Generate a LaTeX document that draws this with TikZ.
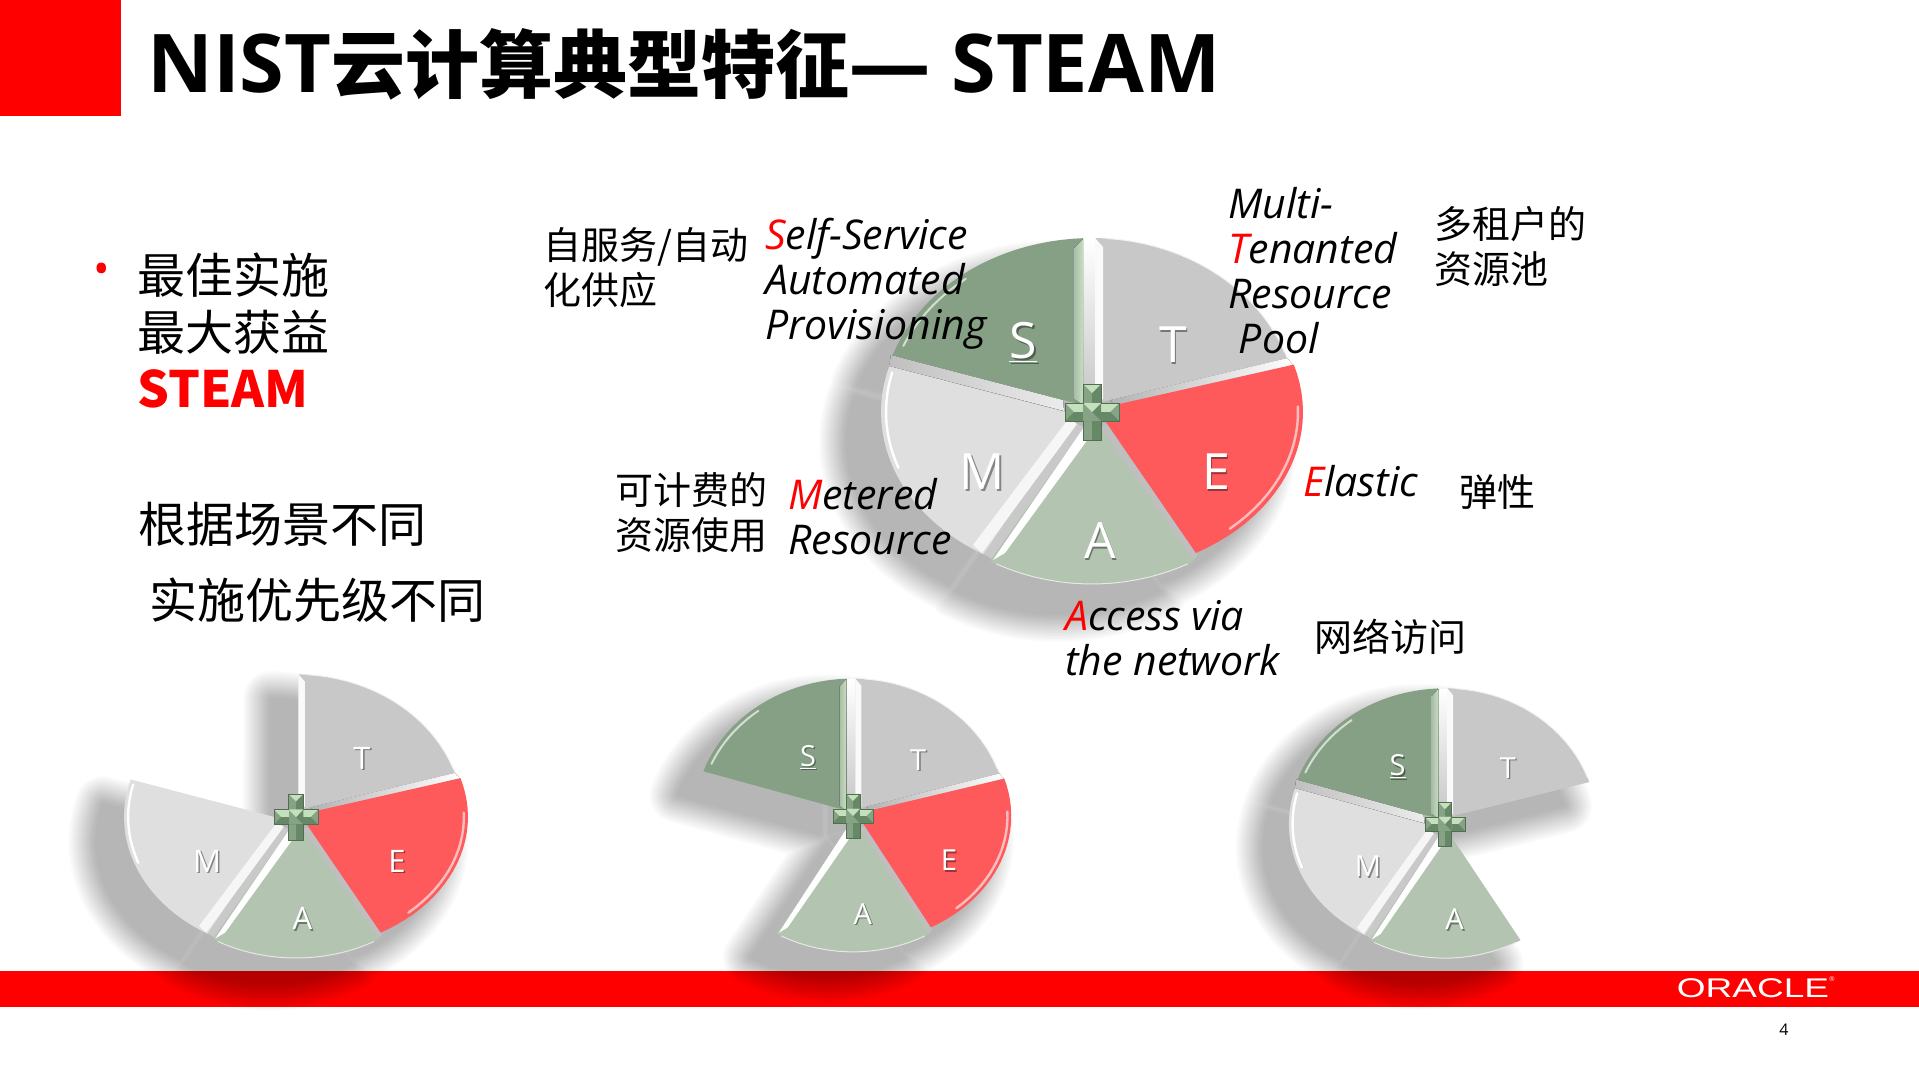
\documentclass[tikz,border=0pt]{standalone}
\usepackage{fontspec}
\usetikzlibrary{calc}
\setmainfont{Noto Sans CJK SC}
\newfontfamily\lat{Open Sans}
\newfontfamily\logo{Liberation Sans}
\definecolor{oraclered}{HTML}{FF0000}
\definecolor{colS}{HTML}{86A085}
\definecolor{colSl}{HTML}{C4E0BC}
\definecolor{colT}{HTML}{C8C8C8}
\definecolor{colE}{HTML}{FE5A5C}
\definecolor{colA}{HTML}{B3C4B0}
\definecolor{colM}{HTML}{DFDFDF}
\definecolor{crossbase}{HTML}{86A386}
\definecolor{crossdark}{HTML}{668866}
\definecolor{crosslight}{HTML}{C4E0BC}
\newcommand\fs[2]{\fontsize{#1}{#2}\selectfont}
\def\pS{(-9,-7) -- plot[domain=199:267.5,samples=24] ({211*cos(\x)},{174*sin(\x)}) -- cycle}
\def\pT{(3,-8) -- plot[domain=-89:-18,samples=24] ({205*cos(\x)},{174*sin(\x)}) -- (18,-12) -- cycle}
\def\pE{(5,-3) -- plot[domain=-17:60.5,samples=24] ({211*cos(\x)},{162*sin(\x)}) -- cycle}
\def\pA{(0,4) -- plot[domain=60:120,samples=20] ({204*cos(\x)},{172*sin(\x)}) -- cycle}
\def\pM{(-15,3) -- plot[domain=121:196,samples=24] ({211*cos(\x)},{166*sin(\x)}) -- cycle}
\newcommand\pieshadow[1]{%
  \begin{scope}[shift={(-34,30)}]
  \foreach \w in {56,53,...,2}{
    \begin{scope}[transparency group,opacity=0.0165]
    \path[fill=black,draw=black,line width=\w pt,line join=round] #1;
    \end{scope}
  }
  \end{scope}}
% shadows that one wedge casts on the gap beside its neighbour
\newcommand\gapST{\fill[top color=white,bottom color=gray!45] (-9,-173) rectangle (3,-8);}
\newcommand\gapTE{\fill[left color=gray!60,right color=white] (18,-12) -- (195,-54) -- (201,-47) -- (25,-4) -- cycle;}
\newcommand\gapSM{\fill[left color=gray!50,right color=white!85!gray] (-201,-57) -- (-29,-12) -- (-28,-1) -- (-203,-46) -- cycle;}
\newcommand\gapEA{\fill[gray!50] (100,150) -- (8,15) -- (15,12) -- (106,143) -- cycle;}
\newcommand\gapMA{\fill[gray!42] (-110,141) -- (-15,12) -- (-8,15) -- (-100,147) -- cycle;}
\newcommand\drawS{%
  \fill[colS] \pS;
  \fill[left color=colS!70!white,right color=colSl] (-18,-164) -- (-9,-173) -- (-9,-7) -- (-18,-13) -- cycle;
  \draw[white,opacity=.65,line width=2pt,line cap=round] plot[domain=203:232,samples=12] ({205*cos(\x)},{169*sin(\x)});
}
\newcommand\drawT{%
  \fill[colT] \pT;
  \fill[white!96!gray] (3,-174) -- (11,-165) -- (11,-13) -- (3,-8) -- cycle;
  \draw[white!90!gray,line width=1pt] plot[domain=-86:-20,samples=20] ({205*cos(\x)},{174*sin(\x)});
}
\newcommand\drawE{%
  \fill[colE] \pE;
  \draw[white!60!colE,line width=2.4pt,line cap=round] plot[domain=-2:48,samples=16] ({206*cos(\x)},{157*sin(\x)});
}
\newcommand\drawA{%
  \fill[colA] \pA;
  \fill[white] (-99,148) -- (-8,15) -- (-1,23) -- (-87,141) -- cycle;
  \draw[white!65!colA,line width=1pt] plot[domain=62:118,samples=16] ({204*cos(\x)},{172*sin(\x)});
}
\newcommand\drawM{%
  \fill[colM] \pM;
  \fill[white!93!gray] (-110,141) -- (-15,12) -- (-23,6) -- (-119,133) -- cycle;
  \draw[white,line width=2.4pt,line cap=round] plot[domain=160:194,samples=14] ({206*cos(\x)},{163*sin(\x)});
}
\newcommand\drawCross{%
  \fill[crossbase] (-9,-28) rectangle (9,28);
  \fill[crossdark] (0,-28) -- (9,-28) -- (9,28) -- (0,28) -- cycle;
  \fill[crosslight] (-9,-28) -- (9,-28) -- (0,-19) -- cycle;
  \fill[crossbase] (-27,-9) rectangle (27,9);
  \fill[crosslight] (-27,-9) -- (27,-9) -- (18,0) -- (-18,0) -- cycle;
  \fill[crossdark] (-27,9) -- (27,9) -- (18,0) -- (-18,0) -- cycle;
  \fill[crossbase] (-9,-9) rectangle (9,9);
  \fill[crossdark] (0,0) -- (9,-9) -- (9,9) -- cycle;
  \fill[crosslight] (0,0) -- (-9,-9) -- (9,-9) -- cycle;
  \draw[crossdark!80!black,line width=.5pt,line join=miter] (-9,-28) -- (9,-28) -- (9,-9) -- (27,-9) -- (27,9) -- (9,9) -- (9,28) -- (-9,28) -- (-9,9) -- (-27,9) -- (-27,-9) -- (-9,-9) -- cycle;
}
\newcommand\pieletter[5]{% name, x, y, size, text
  \node[text=black,opacity=.4,inner sep=0pt] (#1sh) at ($(#2,#3)+(1.8,2)$) {\lat\fs{#4}{#4}#5};
  \node[text=white,inner sep=0pt] (#1) at (#2,#3) {\lat\fs{#4}{#4}#5};
}
\tikzset{
  zh/.style={anchor=west,align=left,inner sep=0pt,text=black,font=\fs{38}{45}},
  zhbig/.style={anchor=west,align=left,inner sep=0pt,text=black,font=\fs{48}{57}},
  en/.style={anchor=west,align=left,inner sep=0pt,text=black,font=\lat\itshape\fs{41}{45}},
}
\begin{document}
\begin{tikzpicture}[x=1pt,y=-1pt]
\useasboundingbox (0,0) rectangle (1919,1079);
\fill[white] (0,0) rectangle (1919,1079);
% frame
\fill[oraclered] (0,0) rectangle (121,116);
\fill[oraclered] (0,971) rectangle (1919,1007);
\node[anchor=west,inner sep=0pt,text=black,font=\bfseries\fs{74}{74}] (title) at (147,64) {{\lat\fs{81}{74}NIST}云计算典型特征{\lat\fs{81}{74}— STEAM}};
\node[inner sep=0pt,text=white,xscale=1.37] (oracle) at (1753,988) {\logo\fs{27}{27}ORACLE};
\node[inner sep=0pt,text=white] (regmark) at (1832,979) {\logo\fs{7}{7}®};
\node[inner sep=0pt,text=black] (pagenum) at (1784,1030) {\lat\fs{16}{16}4};
% big pie
\begin{scope}[shift={(1092,412)}]
  \pieshadow{\pS \pT \pE \pA \pM}
  \gapST \gapTE \gapSM \gapEA \gapMA
  \drawM \drawA \drawE \drawT \drawS \drawCross
  \pieletter{bS}{-69}{-70}{50}{\underline{S}}
  \pieletter{bT}{81}{-67}{50}{T}
  \pieletter{bE}{124}{60}{50}{E}
  \pieletter{bM}{-110}{60}{50}{M}
  \pieletter{bA}{8}{129}{50}{A}
\end{scope}
% pie 1: T E A M
\begin{scope}[shift={(296,817)},xscale=.815,yscale=.82]
  \pieshadow{\pT \pE \pA \pM}
  \gapTE \gapEA \gapMA
  \drawM \drawA \drawE \drawT \drawCross
  \pieletter{aT}{81}{-72}{31}{T}
  \pieletter{aE}{124}{54}{31}{E}
  \pieletter{aM}{-109}{54}{31}{M}
  \pieletter{aA}{8}{124}{31}{A}
\end{scope}
% pie 2: S T E A
\begin{scope}[shift={(853,816)},xscale=.75,yscale=.79]
  \pieshadow{\pS \pT \pE \pA}
  \gapST \gapTE \gapEA
  \drawA \drawE \drawT \drawS \drawCross
  \pieletter{cS}{-60}{-75}{29}{\underline{S}}
  \pieletter{cT}{87}{-71}{29}{T}
  \pieletter{cE}{128}{56}{29}{E}
  \pieletter{cA}{13}{124}{29}{A}
\end{scope}
% pie 3: S T A M
\begin{scope}[shift={(1445,824)},xscale=.74,yscale=.78]
  \pieshadow{\pS \pT \pA \pM}
  \gapST \gapSM \gapMA
  \drawM \drawA \drawT \drawS \drawCross
  \pieletter{dS}{-64}{-74}{29}{\underline{S}}
  \pieletter{dT}{85}{-72}{29}{T}
  \pieletter{dM}{-104}{54}{29}{M}
  \pieletter{dA}{13}{122}{29}{A}
\end{scope}
% left text
\node[inner sep=0pt,text=oraclered] (bullet) at (102,274) {\lat\fs{44}{44}•};
\node[zhbig] (best) at (137,331) {最佳实施\\最大获益\\\textcolor{oraclered}{\bfseries\fs{50}{57}STEAM}};
\node[zhbig] (prio1) at (138,524) {根据场景不同};
\node[zhbig] (prio2) at (149,600) {实施优先级不同};
% labels
\node[zh] (zS) at (543,268) {自服务/自动\\化供应};
\node[zh] (zT) at (1434,246) {多租户的\\资源池};
\node[zh] (zE) at (1459,492) {弹性};
\node[zh] (zM) at (615,513) {可计费的\\资源使用};
\node[zh] (zA) at (1314,637) {网络访问};
\node[en] (eS) at (765,284) {\textcolor{oraclered}{S}elf-Service\\Automated\\Provisioning};
\node[en] (eT) at (1228,271) {Multi-\\\textcolor{oraclered}{T}enanted\\Resource\\\ Pool};
\node[en] (eE) at (1303,481) {\textcolor{oraclered}{E}lastic};
\node[en] (eM) at (788,517) {\textcolor{oraclered}{M}etered\\Resource};
\node[en] (eA) at (1065,638) {\textcolor{oraclered}{A}ccess via\\the network};
\end{tikzpicture}
\end{document}
